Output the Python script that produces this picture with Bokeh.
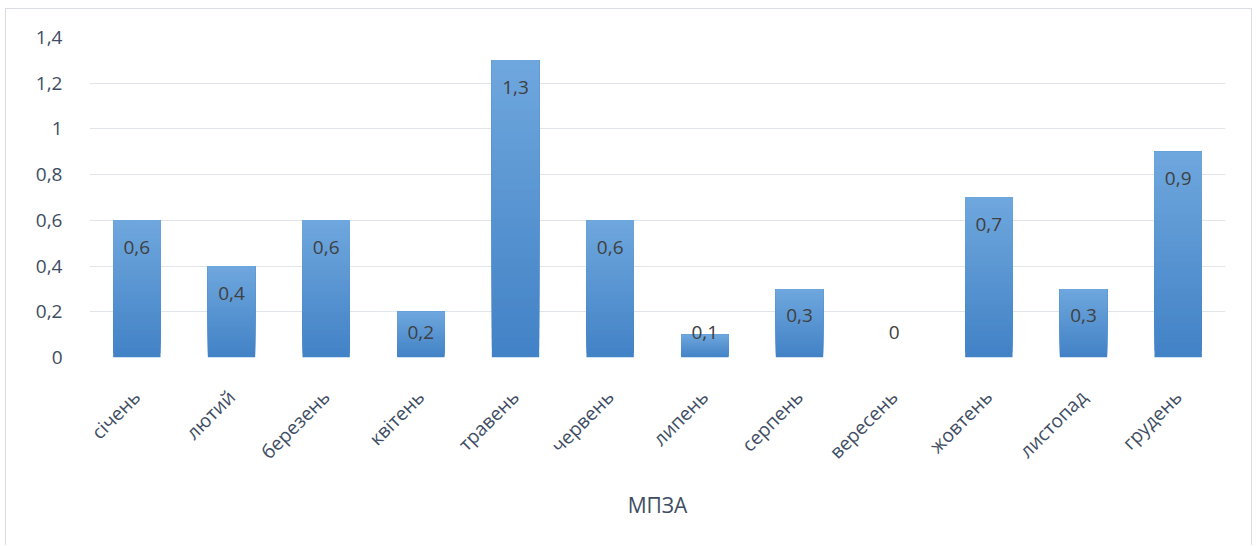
import math
from bokeh.plotting import figure
from bokeh.models import ColumnDataSource, FactorRange, Range1d, FixedTicker, CustomJSTickFormatter
from bokeh.core.properties import value
from bokeh.embed import file_html
from bokeh.resources import INLINE

# ---- data ----
months = ["січень", "лютий", "березень", "квітень", "травень", "червень",
          "липень", "серпень", "вересень", "жовтень", "листопад", "грудень"]
values = [0.6, 0.4, 0.6, 0.2, 1.3, 0.6, 0.1, 0.3, 0.0, 0.7, 0.3, 0.9]
value_labels = ["0,6", "0,4", "0,6", "0,2", "1,3", "0,6", "0,1", "0,3", "0", "0,7", "0,3", "0,9"]
y_ticks = [0, 0.2, 0.4, 0.6, 0.8, 1.0, 1.2, 1.4]
y_tick_labels = ["0", "0,2", "0,4", "0,6", "0,8", "1", "1,2", "1,4"]
axis_title = "МПЗА"

# ---- style ----
FONT = "Open Sans"
TXT = "#3E4D63"
W, H = 1247, 537
BL, BR, BT, BB = 83, 28, 28, 189
YMAX = 1.4
ppu = (H - BT - BB) / YMAX

p = figure(width=W, height=H, x_range=FactorRange(*months, range_padding=0),
           y_range=Range1d(0, YMAX), output_backend="svg", toolbar_location=None,
           min_border_left=BL, min_border_right=BR, min_border_top=BT, min_border_bottom=BB)
p.styles = {"margin-left": "5px", "margin-top": "8px",
            "border-left": "1px solid #D9DDE3", "border-top": "1px solid #D9DDE3",
            "border-right": "1px solid #D9DDE3"}
p.outline_line_color = None
p.background_fill_color = "white"
p.border_fill_color = "white"

# gradient bars
top_c = (112, 168, 222)
bot_c = (66, 130, 198)
N = 30
for k in range(N):
    f = k / N
    c = tuple(int(round(bot_c[i] + (top_c[i] - bot_c[i]) * f)) for i in range(3))
    src = ColumnDataSource(dict(x=months, top=values,
                                bottom=[v * f for v in values]))
    p.vbar(x="x", top="top", bottom="bottom", width=0.5, source=src,
           fill_color="#%02x%02x%02x" % c, line_color=None)

# data labels
offs = [min(27, v * ppu - 25) for v in values]
lsrc = ColumnDataSource(dict(x=months, y=values, t=value_labels, off=offs))
p.text(x="x", y="y", text="t", y_offset="off", source=lsrc,
       text_align="center", text_baseline="middle",
       text_font=value(FONT), text_font_size="19px", text_color="#404040")

# axes
p.xgrid.grid_line_color = None
p.ygrid.grid_line_color = "#E1E5EA"
p.ygrid.grid_line_width = 1.2

p.yaxis.ticker = FixedTicker(ticks=y_ticks)
p.yaxis.formatter = CustomJSTickFormatter(args=dict(tv=y_ticks, tl=y_tick_labels), code="""
let b = 0;
for (let i = 0; i < tv.length; i++) { if (Math.abs(tv[i]-tick) < Math.abs(tv[b]-tick)) b = i; }
return tl[b];
""")
p.yaxis.axis_line_color = None
p.yaxis.major_tick_line_color = None
p.yaxis.minor_tick_line_color = None
p.yaxis.major_label_standoff = 21
p.yaxis.major_label_text_font = FONT
p.yaxis.major_label_text_font_size = "19px"
p.yaxis.major_label_text_color = TXT

p.xaxis.axis_line_color = None
p.xaxis.major_tick_line_color = None
p.xaxis.major_label_orientation = math.pi / 4
p.xaxis.major_label_standoff = 30
p.xaxis.major_label_text_font = FONT
p.xaxis.major_label_text_font_size = "19px"
p.xaxis.major_label_text_color = TXT
p.xaxis.axis_label = axis_title
p.xaxis.axis_label_text_font = FONT
p.xaxis.axis_label_text_font_style = "normal"
p.xaxis.axis_label_text_font_size = "21px"
p.xaxis.axis_label_text_color = TXT
p.xaxis.axis_label_standoff = 14

open("out.html", "w").write(file_html(p, INLINE))
